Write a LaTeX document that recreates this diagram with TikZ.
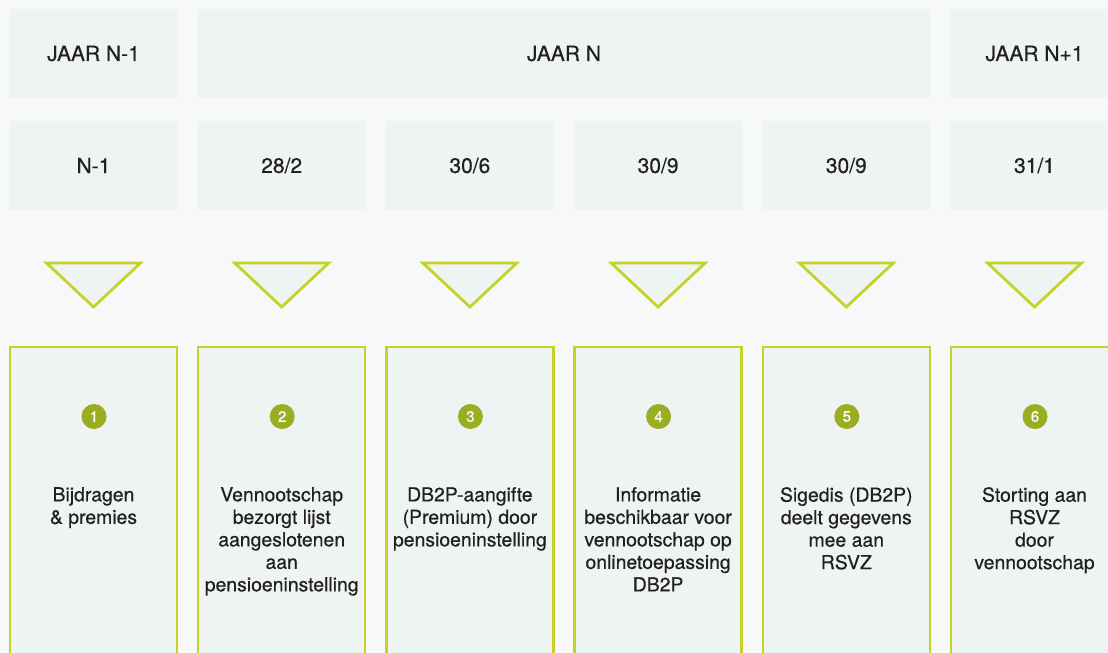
\documentclass[tikz,border=0pt]{standalone}
\usepackage{fontspec}
\setmainfont{TeX Gyre Heros}[FakeBold=0.5,AutoFakeBold=0.5]
\definecolor{bg}{HTML}{F7F9F8}
\definecolor{cell}{HTML}{EEF4F1}
\definecolor{lime}{HTML}{C6D22A}
\definecolor{olive}{HTML}{9BAE22}
\definecolor{ink}{HTML}{231F20}
\begin{document}
\begin{tikzpicture}[x=1pt,y=-1pt,
  headbox/.style={fill=cell,draw=none},
  headtext/.style={text=ink,inner sep=0pt,font=\fontsize{21}{24}\selectfont\bfseries},
  stepbox/.style={fill=cell,draw=lime,line width=2.4pt},
  tri/.style={fill=cell,draw=lime,line width=2.8pt,line join=miter},
  num/.style={circle,fill=olive,text=white,inner sep=0pt,minimum size=25pt,font=\fontsize{15}{15}\selectfont\bfseries},
  body/.style={anchor=north,align=center,text=ink,inner sep=0pt,font=\fontsize{19.4}{22.5}\selectfont\bfseries}]
\fill[bg] (0,0) rectangle (1108,653);
\useasboundingbox (0,0) rectangle (1108,653);
\begin{scope}
\clip (0,0) rectangle (1108,653);
% row 1
\path[headbox] (9,9) rectangle (178,98);
\node[headtext] (y1) at (93.5,53.5) {JAAR N-1};
\path[headbox] (197.2,9) rectangle (931,98);
\node[headtext] (y2) at (564,53.5) {JAAR N};
\path[headbox] (950,9) rectangle (1119,98);
\node[headtext] (y3) at (1034.5,53.5) {JAAR N+1};
% columns
\foreach \i/\d/\n/\t in {0/N-1/1/{Bijdragen\\\& premies},
  1/28\slash 2/2/{Vennootschap\\bezorgt lijst\\aangeslotenen\\aan\\pensioeninstelling},
  2/30\slash 6/3/{DB2P-aangifte\\(Premium) door\\pensioeninstelling},
  3/30\slash 9/4/{Informatie\\beschikbaar voor\\vennootschap op\\onlinetoepassing\\DB2P},
  4/30\slash 9/5/{Sigedis (DB2P)\\deelt gegevens\\mee aan\\RSVZ},
  5/31\slash 1/6/{Storting aan\\RSVZ\\door\\vennootschap}}{
  \pgfmathsetmacro{\L}{9+188.2*\i}
  \pgfmathsetmacro{\C}{\L+84.5}
  \path[headbox] (\L,121) rectangle (\L+169,210);
  \node[headtext] (d\n) at (\C,165.5) {\d};
  \draw[tri] (\C-47,263) -- (\C+47,263) -- (\C,307) -- cycle;
  \draw[stepbox] (\L+1,347) rectangle (\L+168,670);
  \node[num] (c\n) at (\C+0.5,416.5) {\n};
  \node[body] (t\n) at (\C,487) {\t};
}
\end{scope}
\end{tikzpicture}
\end{document}
